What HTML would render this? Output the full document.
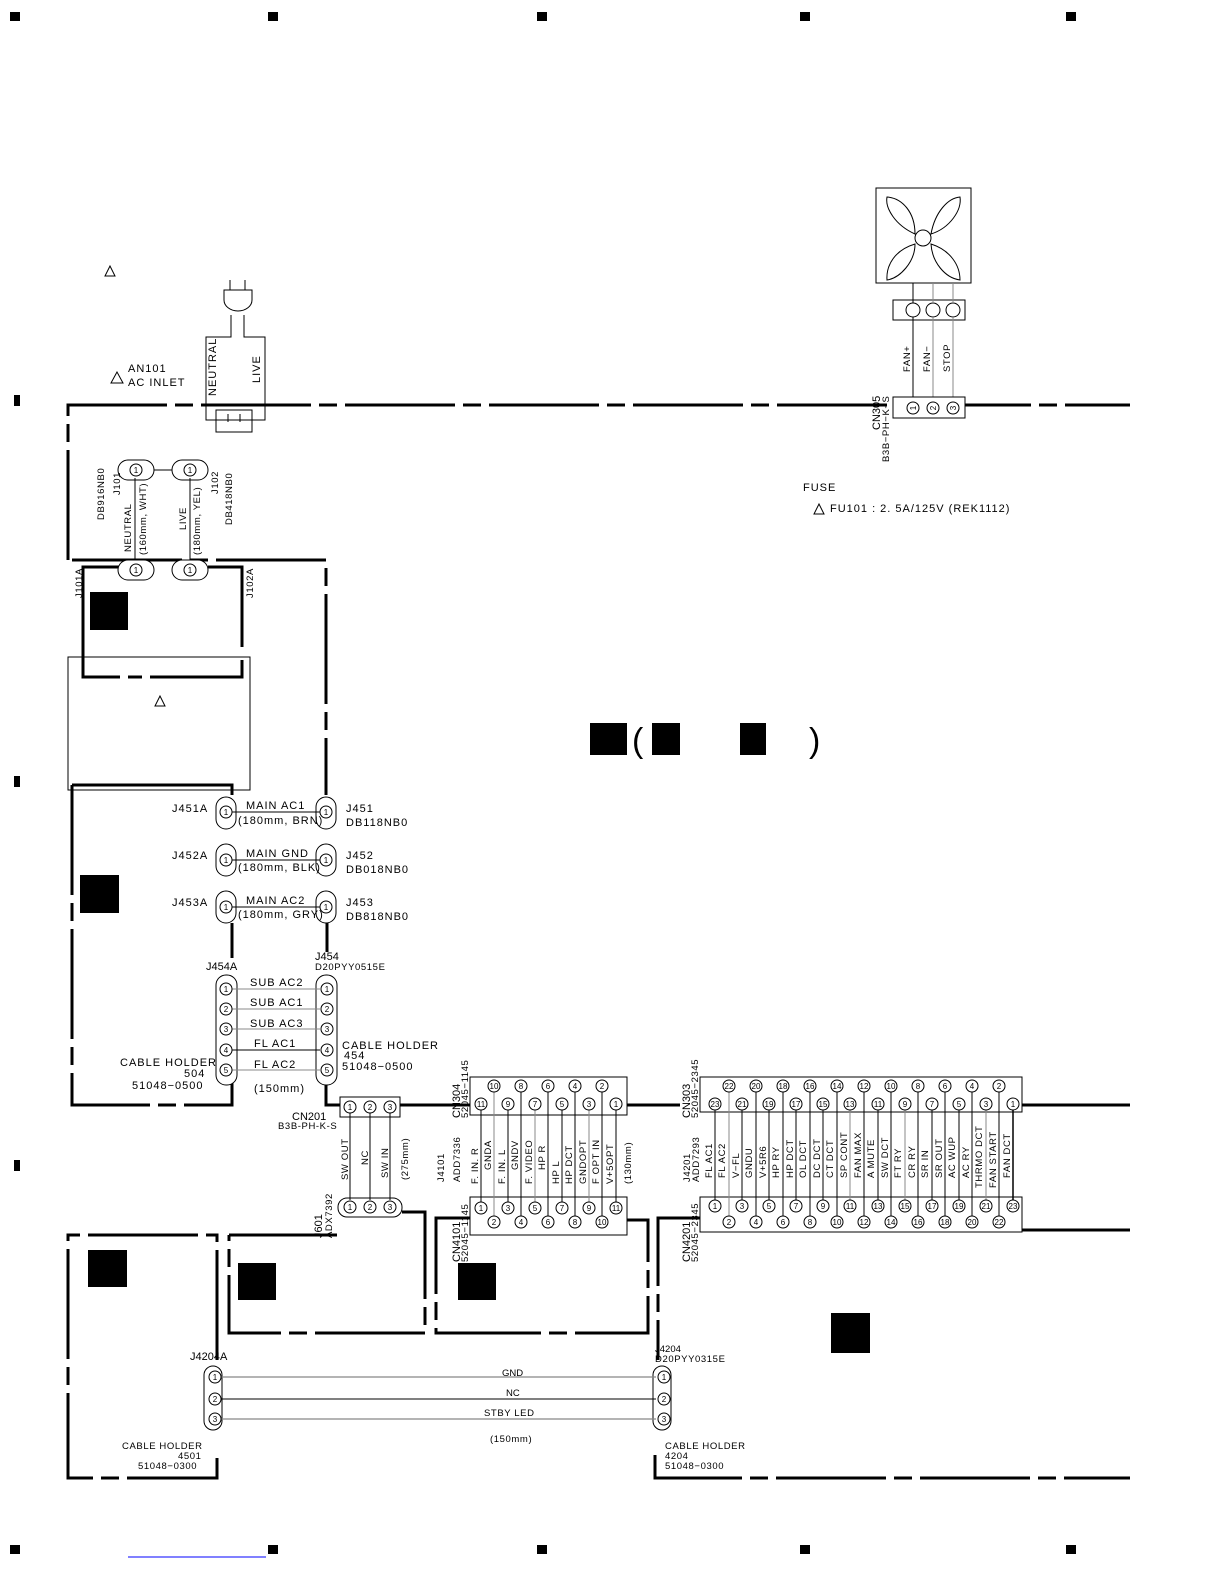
<!DOCTYPE html>
<html><head><meta charset="utf-8"><style>
html,body{margin:0;padding:0;background:#fff}
svg{display:block}
text{font-family:"Liberation Sans",sans-serif;font-size:11px;fill:#000;letter-spacing:1px}
.s{font-size:9.5px;letter-spacing:0.6px}
.p{font-size:8px;letter-spacing:0;text-anchor:middle}
.th{stroke:#000;stroke-width:3;fill:none}
.d{stroke:#000;stroke-width:3;fill:none;stroke-dasharray:110,8,18,8}
.t{stroke:#000;stroke-width:1;fill:none}
.g{stroke:#888;stroke-width:1.3;fill:none}
.c{stroke:#000;stroke-width:1;fill:#fff}
</style></head><body>
<svg width="1225" height="1585" viewBox="0 0 1225 1585" xmlns="http://www.w3.org/2000/svg">
<g fill="#000">
<rect x="10" y="12" width="10" height="9"/><rect x="268" y="12" width="10" height="9"/><rect x="537" y="12" width="10" height="9"/><rect x="800" y="12" width="10" height="9"/><rect x="1066" y="12" width="10" height="9"/>
<rect x="10" y="1545" width="10" height="9"/><rect x="268" y="1545" width="10" height="9"/><rect x="537" y="1545" width="10" height="9"/><rect x="800" y="1545" width="10" height="9"/><rect x="1066" y="1545" width="10" height="9"/>
<rect x="14" y="395" width="6" height="11"/><rect x="14" y="776" width="6" height="11"/><rect x="14" y="1160" width="6" height="11"/>
</g>
<line x1="128" y1="1557" x2="266" y2="1557" stroke="#00f" stroke-width="1"/>

<g fill="#000">
<rect x="90" y="592" width="38" height="38"/><rect x="80" y="875" width="39" height="38"/>
<rect x="88" y="1250" width="39" height="37"/><rect x="238" y="1263" width="38" height="37"/>
<rect x="458" y="1263" width="38" height="37"/><rect x="831" y="1313" width="39" height="40"/>
<rect x="590" y="723" width="37" height="32"/><rect x="652" y="723" width="28" height="32"/><rect x="740" y="723" width="26" height="32"/>
</g>
<text x="632" y="752" style="font-size:34px;letter-spacing:0">(</text>
<text x="809" y="752" style="font-size:34px;letter-spacing:0">)</text>

<g class="t"><path d="M110 266 L105 276 L115 276Z"/><path d="M160 696 L155 706 L165 706Z"/><path d="M117 372 L111 383 L123 383Z"/><path d="M819 504 L814 514 L824 514Z"/></g>
<text x="128" y="372">AN101</text><text x="128" y="386">AC  INLET</text>

<g class="t">
<path d="M230 280 V290 M245 280 V290 M224 290 H252 V300 A14 11 0 0 1 224 300 Z"/>
<path d="M231 315 V337 H206 V403 M244 315 V337 H265 V403"/>
<path d="M206 403 V420 H265 V403 M216 410 H252 V432 H216 Z M228 414 V422 M240 414 V422"/>
</g>
<text transform="translate(216,396) rotate(-90)">NEUTRAL</text>
<text transform="translate(260,383) rotate(-90)">LIVE</text>

<path class="d" d="M68 560 V405 H1130"/>
<path class="d" d="M72 560 H326 V795"/>
<g class="t">
<rect x="118" y="460" width="36" height="20" rx="10" fill="#fff"/><rect x="172" y="460" width="36" height="20" rx="10" fill="#fff"/>
<line x1="154" y1="470" x2="172" y2="470"/>
<line x1="135" y1="478" x2="135" y2="568"/><line x1="190" y1="478" x2="190" y2="568"/>
</g>
<g class="c"><circle cx="136" cy="470" r="6"/><circle cx="190" cy="470" r="6"/></g>
<text class="p" x="136" y="473">1</text><text class="p" x="190" y="473">1</text>
<text class="s" transform="translate(104,520) rotate(-90)">DB916NB0</text>
<text class="s" transform="translate(120,495) rotate(-90)">J101</text>
<text class="s" transform="translate(131,552) rotate(-90)">NEUTRAL</text>
<text class="s" transform="translate(146,555) rotate(-90)">(160mm, WHT)</text>
<text class="s" transform="translate(186,530) rotate(-90)">LIVE</text>
<text class="s" transform="translate(200,555) rotate(-90)">(180mm, YEL)</text>
<text class="s" transform="translate(218,494) rotate(-90)">J102</text>
<text class="s" transform="translate(232,525) rotate(-90)">DB418NB0</text>

<path class="th" d="M120 567 H83 V677 H120 M128 677 H142 M150 677 H242 V660 M242 647 V567 H208"/>
<g class="t"><rect x="118" y="560" width="36" height="20" rx="10" fill="#fff"/><rect x="172" y="560" width="36" height="20" rx="10" fill="#fff"/></g>
<g class="c"><circle cx="136" cy="570" r="6"/><circle cx="190" cy="570" r="6"/></g>
<text class="p" x="136" y="573">1</text><text class="p" x="190" y="573">1</text>
<text class="s" transform="translate(82,598) rotate(-90)">J101A</text>
<text class="s" transform="translate(253,598) rotate(-90)">J102A</text>
<rect x="68" y="657" width="182" height="133" class="t" stroke-width="1.5"/>

<path class="th" d="M232 795 V785 H72"/>
<path class="d" d="M72 785 V1105 H232 V1075"/>

<g class="t">
<rect x="216" y="797" width="20" height="32" rx="10" fill="#fff"/><rect x="316" y="797" width="20" height="32" rx="10" fill="#fff"/>
<rect x="216" y="844" width="20" height="32" rx="10" fill="#fff"/><rect x="316" y="844" width="20" height="32" rx="10" fill="#fff"/>
<rect x="216" y="891" width="20" height="32" rx="10" fill="#fff"/><rect x="316" y="891" width="20" height="32" rx="10" fill="#fff"/>
<line x1="232" y1="812" x2="320" y2="812"/><line x1="232" y1="860" x2="320" y2="860"/><line x1="232" y1="907" x2="320" y2="907"/>
</g>
<g class="c"><circle cx="226" cy="812" r="6"/><circle cx="326" cy="812" r="6"/><circle cx="226" cy="860" r="6"/><circle cx="326" cy="860" r="6"/><circle cx="226" cy="907" r="6"/><circle cx="326" cy="907" r="6"/></g>
<g class="p"><text class="p" x="226" y="815">1</text><text class="p" x="326" y="815">1</text><text class="p" x="226" y="863">1</text><text class="p" x="326" y="863">1</text><text class="p" x="226" y="910">1</text><text class="p" x="326" y="910">1</text></g>
<text x="172" y="812">J451A</text><text x="172" y="859">J452A</text><text x="172" y="906">J453A</text>
<text x="246" y="809">MAIN AC1</text><text x="238" y="824">(180mm, BRN)</text>
<text x="246" y="857">MAIN GND</text><text x="238" y="871">(180mm, BLK)</text>
<text x="246" y="904">MAIN AC2</text><text x="238" y="918">(180mm, GRY)</text>
<text x="346" y="812">J451</text><text x="346" y="826">DB118NB0</text>
<text x="346" y="859">J452</text><text x="346" y="873">DB018NB0</text>
<text x="346" y="906">J453</text><text x="346" y="920">DB818NB0</text>
<path class="th" d="M232 923 V958 M327 923 V952"/>

<text x="206" y="970" style="letter-spacing:0">J454A</text>
<text x="315" y="960" style="letter-spacing:0">J454</text><text class="s" x="315" y="970">D20PYY0515E</text>
<g class="t"><rect x="216" y="975" width="21" height="110" rx="10" fill="#fff"/><rect x="316" y="975" width="21" height="110" rx="10" fill="#fff"/>
<line x1="232" y1="989" x2="320" y2="989" stroke="#888"/><line x1="232" y1="1009" x2="320" y2="1009" stroke="#888"/><line x1="232" y1="1029" x2="320" y2="1029" stroke="#888"/><line x1="232" y1="1050" x2="320" y2="1050"/><line x1="232" y1="1070" x2="320" y2="1070" stroke="#888"/></g>
<g class="c"><circle cx="226" cy="989" r="6"/><circle cx="226" cy="1009" r="6"/><circle cx="226" cy="1029" r="6"/><circle cx="226" cy="1050" r="6"/><circle cx="226" cy="1070" r="6"/>
<circle cx="327" cy="989" r="6"/><circle cx="327" cy="1009" r="6"/><circle cx="327" cy="1029" r="6"/><circle cx="327" cy="1050" r="6"/><circle cx="327" cy="1070" r="6"/></g>
<text class="p" x="226" y="992">1</text><text class="p" x="226" y="1012">2</text><text class="p" x="226" y="1032">3</text><text class="p" x="226" y="1053">4</text><text class="p" x="226" y="1073">5</text>
<text class="p" x="327" y="992">1</text><text class="p" x="327" y="1012">2</text><text class="p" x="327" y="1032">3</text><text class="p" x="327" y="1053">4</text><text class="p" x="327" y="1073">5</text>
<text x="250" y="986">SUB  AC2</text><text x="250" y="1006">SUB  AC1</text><text x="250" y="1027">SUB  AC3</text><text x="254" y="1047">FL  AC1</text><text x="254" y="1068">FL  AC2</text>
<text x="120" y="1066">CABLE  HOLDER</text><text x="184" y="1077">504</text><text x="132" y="1089">51048−0500</text>
<text x="342" y="1049">CABLE  HOLDER</text><text x="344" y="1059">454</text><text x="342" y="1070">51048−0500</text>
<text x="254" y="1092">(150mm)</text>

<path class="th" d="M326 1085 V1105 H340 M400 1105 H470"/>
<rect x="340" y="1097" width="60" height="20" class="t"/>
<g class="c"><circle cx="350" cy="1107" r="6"/><circle cx="370" cy="1107" r="6"/><circle cx="390" cy="1107" r="6"/></g>
<text class="p" x="350" y="1110">1</text><text class="p" x="370" y="1110">2</text><text class="p" x="390" y="1110">3</text>
<text x="292" y="1120" style="letter-spacing:0">CN201</text><text class="s" x="278" y="1129">B3B-PH-K-S</text>
<g class="t"><line x1="350" y1="1113" x2="350" y2="1200"/><line x1="370" y1="1113" x2="370" y2="1200"/><line x1="390" y1="1113" x2="390" y2="1200"/></g>
<text class="s" transform="translate(348,1180) rotate(-90)">SW OUT</text>
<text class="s" transform="translate(368,1165) rotate(-90)">NC</text>
<text class="s" transform="translate(388,1178) rotate(-90)">SW IN</text>
<text class="s" transform="translate(408,1180) rotate(-90)">(275mm)</text>
<rect x="338" y="1198" width="64" height="19" rx="9" class="t"/>
<g class="c"><circle cx="350" cy="1207" r="6"/><circle cx="370" cy="1207" r="6"/><circle cx="390" cy="1207" r="6"/></g>
<text class="p" x="350" y="1210">1</text><text class="p" x="370" y="1210">2</text><text class="p" x="390" y="1210">3</text>
<text transform="translate(322,1238) rotate(-90)" style="letter-spacing:0">J601</text>
<text class="s" transform="translate(332,1238) rotate(-90)">ADX7392</text>

<rect x="470" y="1077" width="157" height="38" class="t"/>
<rect x="470" y="1197" width="157" height="38" class="t"/>
<path class="th" d="M627 1105 H680"/>
<g class="t">
<line x1="481" y1="1104" x2="481" y2="1208"/><line x1="494" y1="1086" x2="494" y2="1222" stroke="#888"/><line x1="508" y1="1104" x2="508" y2="1208"/><line x1="521" y1="1086" x2="521" y2="1222"/><line x1="535" y1="1104" x2="535" y2="1208" stroke="#888"/><line x1="548" y1="1086" x2="548" y2="1222"/><line x1="562" y1="1104" x2="562" y2="1208"/><line x1="575" y1="1086" x2="575" y2="1222"/><line x1="589" y1="1104" x2="589" y2="1208" stroke="#888"/><line x1="602" y1="1086" x2="602" y2="1222"/><line x1="616" y1="1104" x2="616" y2="1208"/>
</g>
<g class="c">
<circle cx="481" cy="1104" r="6"/><circle cx="494" cy="1086" r="6"/><circle cx="508" cy="1104" r="6"/><circle cx="521" cy="1086" r="6"/><circle cx="535" cy="1104" r="6"/><circle cx="548" cy="1086" r="6"/><circle cx="562" cy="1104" r="6"/><circle cx="575" cy="1086" r="6"/><circle cx="589" cy="1104" r="6"/><circle cx="602" cy="1086" r="6"/><circle cx="616" cy="1104" r="6"/>
<circle cx="481" cy="1208" r="6"/><circle cx="494" cy="1222" r="6"/><circle cx="508" cy="1208" r="6"/><circle cx="521" cy="1222" r="6"/><circle cx="535" cy="1208" r="6"/><circle cx="548" cy="1222" r="6"/><circle cx="562" cy="1208" r="6"/><circle cx="575" cy="1222" r="6"/><circle cx="589" cy="1208" r="6"/><circle cx="602" cy="1222" r="6"/><circle cx="616" cy="1208" r="6"/>
</g>
<g style="font-size:7px">
<text class="p" x="481" y="1107">11</text><text class="p" x="494" y="1089">10</text><text class="p" x="508" y="1107">9</text><text class="p" x="521" y="1089">8</text><text class="p" x="535" y="1107">7</text><text class="p" x="548" y="1089">6</text><text class="p" x="562" y="1107">5</text><text class="p" x="575" y="1089">4</text><text class="p" x="589" y="1107">3</text><text class="p" x="602" y="1089">2</text><text class="p" x="616" y="1107">1</text>
<text class="p" x="481" y="1211">1</text><text class="p" x="494" y="1225">2</text><text class="p" x="508" y="1211">3</text><text class="p" x="521" y="1225">4</text><text class="p" x="535" y="1211">5</text><text class="p" x="548" y="1225">6</text><text class="p" x="562" y="1211">7</text><text class="p" x="575" y="1225">8</text><text class="p" x="589" y="1211">9</text><text class="p" x="602" y="1225">10</text><text class="p" x="616" y="1211">11</text>
</g>
<text transform="translate(460,1118) rotate(-90)" style="letter-spacing:0">CN304</text>
<text class="s" transform="translate(468,1118) rotate(-90)">52045−1145</text>
<text transform="translate(460,1262) rotate(-90)" style="letter-spacing:0">CN4101</text>
<text class="s" transform="translate(468,1262) rotate(-90)">52045−1145</text>
<text class="s" transform="translate(444,1182) rotate(-90)">J4101</text>
<text class="s" transform="translate(460,1182) rotate(-90)">ADD7336</text>
<g class="s">
<text class="s" transform="translate(478,1184) rotate(-90)">F. IN. R</text>
<text class="s" transform="translate(491,1170) rotate(-90)">GNDA</text>
<text class="s" transform="translate(505,1184) rotate(-90)">F. IN. L</text>
<text class="s" transform="translate(518,1170) rotate(-90)">GNDV</text>
<text class="s" transform="translate(532,1184) rotate(-90)">F. VIDEO</text>
<text class="s" transform="translate(545,1170) rotate(-90)">HP R</text>
<text class="s" transform="translate(559,1184) rotate(-90)">HP L</text>
<text class="s" transform="translate(572,1184) rotate(-90)">HP DCT</text>
<text class="s" transform="translate(586,1184) rotate(-90)">GNDOPT</text>
<text class="s" transform="translate(599,1184) rotate(-90)">F OPT IN</text>
<text class="s" transform="translate(613,1184) rotate(-90)">V+5OPT</text>
<text class="s" transform="translate(631,1184) rotate(-90)">(130mm)</text>
</g>

<path class="th" d="M1022 1105 H1130"/>
<path class="d" d="M1022 1230 H1130"/>
<rect x="700" y="1077" width="322" height="35" class="t"/>
<rect x="700" y="1197" width="322" height="35" class="t"/>
<g class="t">
<line x1="715" y1="1104" x2="715" y2="1206"/><line x1="729" y1="1086" x2="729" y2="1222" stroke="#888"/><line x1="742" y1="1104" x2="742" y2="1206"/><line x1="756" y1="1086" x2="756" y2="1222"/><line x1="769" y1="1104" x2="769" y2="1206"/><line x1="783" y1="1086" x2="783" y2="1222"/><line x1="796" y1="1104" x2="796" y2="1206"/><line x1="810" y1="1086" x2="810" y2="1222"/><line x1="823" y1="1104" x2="823" y2="1206"/><line x1="837" y1="1086" x2="837" y2="1222"/><line x1="850" y1="1104" x2="850" y2="1206" stroke="#888"/><line x1="864" y1="1086" x2="864" y2="1222"/><line x1="878" y1="1104" x2="878" y2="1206"/><line x1="891" y1="1086" x2="891" y2="1222"/><line x1="905" y1="1104" x2="905" y2="1206" stroke="#888"/><line x1="918" y1="1086" x2="918" y2="1222"/><line x1="932" y1="1104" x2="932" y2="1206"/><line x1="945" y1="1086" x2="945" y2="1222"/><line x1="959" y1="1104" x2="959" y2="1206"/><line x1="972" y1="1086" x2="972" y2="1222"/><line x1="986" y1="1104" x2="986" y2="1206" stroke="#888"/><line x1="999" y1="1086" x2="999" y2="1222"/><line x1="1013" y1="1104" x2="1013" y2="1206" stroke-width="1.5"/>
</g>
<g class="c">
<circle cx="715" cy="1104" r="6"/><circle cx="729" cy="1086" r="6"/><circle cx="742" cy="1104" r="6"/><circle cx="756" cy="1086" r="6"/><circle cx="769" cy="1104" r="6"/><circle cx="783" cy="1086" r="6"/><circle cx="796" cy="1104" r="6"/><circle cx="810" cy="1086" r="6"/><circle cx="823" cy="1104" r="6"/><circle cx="837" cy="1086" r="6"/><circle cx="850" cy="1104" r="6"/><circle cx="864" cy="1086" r="6"/><circle cx="878" cy="1104" r="6"/><circle cx="891" cy="1086" r="6"/><circle cx="905" cy="1104" r="6"/><circle cx="918" cy="1086" r="6"/><circle cx="932" cy="1104" r="6"/><circle cx="945" cy="1086" r="6"/><circle cx="959" cy="1104" r="6"/><circle cx="972" cy="1086" r="6"/><circle cx="986" cy="1104" r="6"/><circle cx="999" cy="1086" r="6"/><circle cx="1013" cy="1104" r="6"/>
<circle cx="715" cy="1206" r="6"/><circle cx="729" cy="1222" r="6"/><circle cx="742" cy="1206" r="6"/><circle cx="756" cy="1222" r="6"/><circle cx="769" cy="1206" r="6"/><circle cx="783" cy="1222" r="6"/><circle cx="796" cy="1206" r="6"/><circle cx="810" cy="1222" r="6"/><circle cx="823" cy="1206" r="6"/><circle cx="837" cy="1222" r="6"/><circle cx="850" cy="1206" r="6"/><circle cx="864" cy="1222" r="6"/><circle cx="878" cy="1206" r="6"/><circle cx="891" cy="1222" r="6"/><circle cx="905" cy="1206" r="6"/><circle cx="918" cy="1222" r="6"/><circle cx="932" cy="1206" r="6"/><circle cx="945" cy="1222" r="6"/><circle cx="959" cy="1206" r="6"/><circle cx="972" cy="1222" r="6"/><circle cx="986" cy="1206" r="6"/><circle cx="999" cy="1222" r="6"/><circle cx="1013" cy="1206" r="6"/>
</g>
<g style="font-size:7px">
<text class="p" x="715" y="1107">23</text><text class="p" x="729" y="1089">22</text><text class="p" x="742" y="1107">21</text><text class="p" x="756" y="1089">20</text><text class="p" x="769" y="1107">19</text><text class="p" x="783" y="1089">18</text><text class="p" x="796" y="1107">17</text><text class="p" x="810" y="1089">16</text><text class="p" x="823" y="1107">15</text><text class="p" x="837" y="1089">14</text><text class="p" x="850" y="1107">13</text><text class="p" x="864" y="1089">12</text><text class="p" x="878" y="1107">11</text><text class="p" x="891" y="1089">10</text><text class="p" x="905" y="1107">9</text><text class="p" x="918" y="1089">8</text><text class="p" x="932" y="1107">7</text><text class="p" x="945" y="1089">6</text><text class="p" x="959" y="1107">5</text><text class="p" x="972" y="1089">4</text><text class="p" x="986" y="1107">3</text><text class="p" x="999" y="1089">2</text><text class="p" x="1013" y="1107">1</text>
<text class="p" x="715" y="1209">1</text><text class="p" x="729" y="1225">2</text><text class="p" x="742" y="1209">3</text><text class="p" x="756" y="1225">4</text><text class="p" x="769" y="1209">5</text><text class="p" x="783" y="1225">6</text><text class="p" x="796" y="1209">7</text><text class="p" x="810" y="1225">8</text><text class="p" x="823" y="1209">9</text><text class="p" x="837" y="1225">10</text><text class="p" x="850" y="1209">11</text><text class="p" x="864" y="1225">12</text><text class="p" x="878" y="1209">13</text><text class="p" x="891" y="1225">14</text><text class="p" x="905" y="1209">15</text><text class="p" x="918" y="1225">16</text><text class="p" x="932" y="1209">17</text><text class="p" x="945" y="1225">18</text><text class="p" x="959" y="1209">19</text><text class="p" x="972" y="1225">20</text><text class="p" x="986" y="1209">21</text><text class="p" x="999" y="1225">22</text><text class="p" x="1013" y="1209">23</text>
</g>
<text transform="translate(690,1118) rotate(-90)" style="letter-spacing:0">CN303</text>
<text class="s" transform="translate(698,1118) rotate(-90)">52045−2345</text>
<text transform="translate(690,1262) rotate(-90)" style="letter-spacing:0">CN4201</text>
<text class="s" transform="translate(698,1262) rotate(-90)">52045−2345</text>
<text class="s" transform="translate(690,1182) rotate(-90)">J4201</text>
<text class="s" transform="translate(699,1182) rotate(-90)">ADD7293</text>
<g>
<text class="s" transform="translate(712,1178) rotate(-90)">FL  AC1</text>
<text class="s" transform="translate(725,1178) rotate(-90)">FL  AC2</text>
<text class="s" transform="translate(739,1178) rotate(-90)">V−FL</text>
<text class="s" transform="translate(752,1178) rotate(-90)">GNDU</text>
<text class="s" transform="translate(766,1178) rotate(-90)">V+5R6</text>
<text class="s" transform="translate(779,1178) rotate(-90)">HP  RY</text>
<text class="s" transform="translate(793,1178) rotate(-90)">HP  DCT</text>
<text class="s" transform="translate(806,1178) rotate(-90)">OL  DCT</text>
<text class="s" transform="translate(820,1178) rotate(-90)">DC  DCT</text>
<text class="s" transform="translate(833,1178) rotate(-90)">CT  DCT</text>
<text class="s" transform="translate(847,1178) rotate(-90)">SP  CONT</text>
<text class="s" transform="translate(861,1178) rotate(-90)">FAN  MAX</text>
<text class="s" transform="translate(874,1178) rotate(-90)">A  MUTE</text>
<text class="s" transform="translate(888,1178) rotate(-90)">SW  DCT</text>
<text class="s" transform="translate(901,1178) rotate(-90)">FT  RY</text>
<text class="s" transform="translate(915,1178) rotate(-90)">CR  RY</text>
<text class="s" transform="translate(928,1178) rotate(-90)">SR  IN</text>
<text class="s" transform="translate(942,1178) rotate(-90)">SR  OUT</text>
<text class="s" transform="translate(955,1178) rotate(-90)">AC  WUP</text>
<text class="s" transform="translate(969,1178) rotate(-90)">AC  RY</text>
<text class="s" transform="translate(982,1188) rotate(-90)">THRMO  DCT</text>
<text class="s" transform="translate(996,1188) rotate(-90)">FAN  START</text>
<text class="s" transform="translate(1010,1178) rotate(-90)">FAN  DCT</text>
</g>

<path class="d" d="M217 1360 V1235 H68 V1478 H217 V1455"/>
<path class="d" d="M229 1235 H337 M402 1212 H425 V1333 H229 V1235"/>
<path class="th" d="M402 1212 H425 V1260"/>
<path class="d" d="M470 1218 H436 V1333 H648 V1220 H627"/>
<path class="th" d="M470 1218 H436 V1260"/>
<path class="d" d="M700 1218 H658 V1360"/>
<path class="d" d="M655 1455 V1478 H1130"/>

<text x="190" y="1360" style="letter-spacing:0">J4204A</text>
<text class="s" x="655" y="1352" style="letter-spacing:0">J4204</text><text class="s" x="655" y="1362">D20PYY0315E</text>
<g class="t"><rect x="204" y="1366" width="18" height="64" rx="9" fill="#fff"/><rect x="653" y="1366" width="18" height="64" rx="9" fill="#fff"/>
<line x1="220" y1="1377" x2="656" y2="1377" stroke="#888" stroke-width="1.3"/><line x1="220" y1="1399" x2="656" y2="1399"/><line x1="220" y1="1419" x2="656" y2="1419" stroke="#888" stroke-width="1.3"/></g>
<g class="c"><circle cx="215" cy="1377" r="6"/><circle cx="215" cy="1399" r="6"/><circle cx="215" cy="1419" r="6"/><circle cx="664" cy="1377" r="6"/><circle cx="664" cy="1399" r="6"/><circle cx="664" cy="1419" r="6"/></g>
<text class="p" x="215" y="1380">1</text><text class="p" x="215" y="1402">2</text><text class="p" x="215" y="1422">3</text><text class="p" x="664" y="1380">1</text><text class="p" x="664" y="1402">2</text><text class="p" x="664" y="1422">3</text>
<text class="s" x="502" y="1376" style="letter-spacing:0">GND</text><text class="s" x="506" y="1396" style="letter-spacing:0">NC</text><text class="s" x="484" y="1416">STBY  LED</text>
<text class="s" x="490" y="1442">(150mm)</text>
<text class="s" x="122" y="1449">CABLE  HOLDER</text><text class="s" x="178" y="1459">4501</text><text class="s" x="138" y="1469">51048−0300</text>
<text class="s" x="665" y="1449">CABLE  HOLDER</text><text class="s" x="665" y="1459">4204</text><text class="s" x="665" y="1469">51048−0300</text>

<rect x="876" y="188" width="95" height="95" class="t" stroke-width="1.2"/>
<g class="t">
<circle cx="923" cy="238" r="8"/>
<path d="M915 234 C895 225 885 208 887 197 C902 198 915 212 915 234Z"/>
<path d="M931 234 C935 212 948 198 960 197 C962 210 950 228 931 234Z"/>
<path d="M915 244 C895 250 886 265 887 280 C900 278 915 262 915 244Z"/>
<path d="M931 244 C950 250 960 265 960 280 C945 278 932 262 931 244Z"/>
</g>
<rect x="893" y="300" width="72" height="20" class="t"/>
<g class="t"><circle cx="913" cy="310" r="7"/><circle cx="933" cy="310" r="7"/><circle cx="953" cy="310" r="7"/>
<line x1="913" y1="283" x2="913" y2="303"/><line x1="933" y1="283" x2="933" y2="303" stroke="#888"/><line x1="953" y1="283" x2="953" y2="303" stroke="#888"/>
<line x1="913" y1="317" x2="913" y2="402"/><line x1="933" y1="317" x2="933" y2="402" stroke="#888"/><line x1="953" y1="317" x2="953" y2="402" stroke="#888"/></g>
<text class="s" transform="translate(910,372) rotate(-90)">FAN+</text>
<text class="s" transform="translate(930,372) rotate(-90)">FAN−</text>
<text class="s" transform="translate(950,372) rotate(-90)">STOP</text>
<rect x="893" y="397" width="72" height="21" class="c"/>
<g class="c"><circle cx="913" cy="408" r="6"/><circle cx="933" cy="408" r="6"/><circle cx="953" cy="408" r="6"/></g>
<text class="p" transform="translate(916,408) rotate(-90)">1</text><text class="p" transform="translate(936,408) rotate(-90)">2</text><text class="p" transform="translate(956,408) rotate(-90)">3</text>
<text transform="translate(880,430) rotate(-90)" style="letter-spacing:0">CN305</text>
<text class="s" transform="translate(889,462) rotate(-90)">B3B−PH−K−S</text>

<text x="803" y="491">FUSE</text>
<text x="830" y="512">FU101  : 2. 5A/125V (REK1112)</text>
</svg>
</body></html>
